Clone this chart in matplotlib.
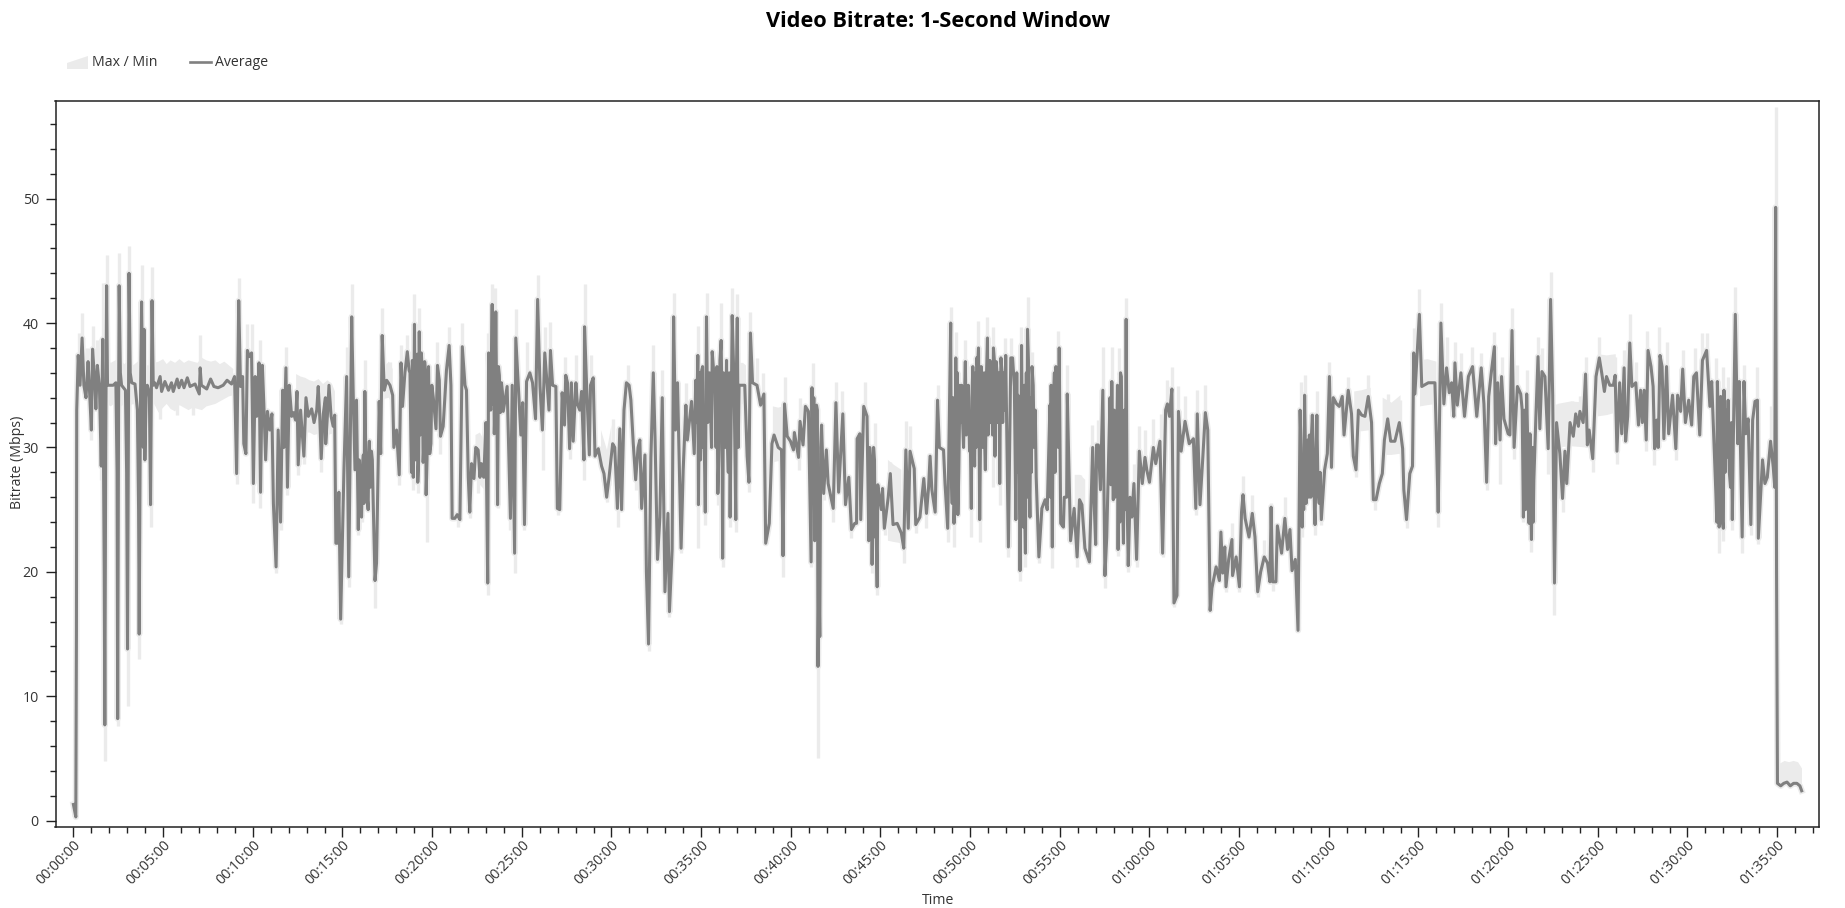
import numpy as np
from matplotlib import pyplot as plt
from matplotlib.patches import Polygon

plt.rcParams['font.family'] = ['Open Sans', 'DejaVu Sans']

nan = float('nan')

# average (seconds, Mbps)
time_s = [
    0,4,8,10,11,16,22,29,35,42, 49,53,60,64,71,75,80,87,93,98,
    103,105,108,111,114,118,133,142,146,148, 151,153,157,161,174,178,181,184,186,190,
    195,206,214,218,220,224,228,234,236,239, 243,247,254,258,263,267,272,278,290,295,
    306,318,328,334,347,353,362,370,381,390, 407,421,424,428,446,459,470,484,501,514,
    529,539,546,553,559,566,570,577,582,588, 596,602,608,613,621,626,632,637,643,649,
    657,664,669,678,685,693,700,704,711,716, 722,730,736,743,748,752,760,771,778,786,
    797,805,814,819,824,829,836,843,844,850, 855,862,869,874,878,883,888,894,905,914,
    921,931,936,942,947,953,959,964,970,975, 981,986,990,997,1003,1009,1014,1023,1028,1033,
    1040,1048,1059,1068,1072,1081,1090,1096,1101,1109, 1117,1123,1129,1137,1141,1147,1152,1157,1164,1170,
    1175,1180,1188,1196,1204,1213,1218,1224,1228,1237, 1248,1257,1263,1267,1276,1284,1293,1301,1310,1315,
    1321,1326,1332,1340,1346,1354,1360,1365,1373,1380, 1386,1389,1396,1401,1408,1413,1419,1425,1432,1438,
    1451,1462,1468,1476,1480,1488,1497,1503,1509,1516, 1527,1536,1546,1553,1561,1569,1577,1591,1596,1603,
    1614,1619,1627,1635,1643,1647,1653,1660,1666,1672, 1681,1686,1694,1700,1708,1710,1717,1726,1730,1739,
    1745,1756,1767,1775,1784,1792,1804,1811,1820,1828, 1834,1842,1850,1859,1865,1873,1881,1889,1895,1901,
    1912,1917,1924,1932,1940,1946,1954,1962,1970,1979, 1989,1994,2003,2008,2014,2021,2033,2040,2049,2054,
    2068,2077,2082,2089,2091,2102,2107,2114,2118,2126, 2132,2137,2146,2156,2167,2172,2179,2187,2197,2204,
    2211,2216,2221,2227,2246,2254,2260,2265,2272,2287, 2299,2310,2316,2328,2337,2344,2358,2369,2374,2379,
    2388,2399,2409,2412,2426,2431,2441,2449,2459,2468, 2471,2480,2486,2491,2497,2503,2510,2519,2525,2542,
    2551,2560,2574,2583,2594,2603,2614,2620,2622,2631, 2634,2644,2655,2661,2667,2672,2677,2682,2689,2693,
    2703,2707,2713,2726,2733,2742,2756,2770,2778,2785, 2793,2799,2813,2818,2832,2845,2854,2861,2866,2872,
    2883,2891,2897,2911,2916,2925,2935,2940,2946,2952, 2959,2966,2975,2984,2991,2998,3004,3009,3015,3022,
    3028,3032,3037,3044,3051,3058,3063,3078,3083,3087, 3095,3099,3103,3111,3119,3128,3136,3142,3148,3153,
    3160,3167,3172,3178,3185,3192,3200,3207,3214,3221, 3230,3240,3251,3258,3267,3275,3279,3287,3292,3298,
    3303,3312,3315,3323,3325,3336,3348,3358,3366,3374, 3384,3399,3410,3415,3420,3423,3429,3436,3444,3451,
    3457,3465,3474,3479,3487,3495,3498,3506,3513,3522, 3529,3535,3541,3548,3557,3566,3576,3585,3591,3600,
    3613,3621,3635,3644,3654,3660,3667,3675,3682,3692, 3697,3706,3719,3733,3747,3755,3760,3769,3778,3787,
    3795,3803,3809,3823,3834,3839,3845,3852,3856,3865, 3876,3878,3890,3901,3908,3913,3920,3933,3944,3953,
    3962,3972,3984,3995,4003,4007,4012,4023,4028,4042, 4053,4062,4070,4077,4088,4097,4104,4111,4119,4124,
    4130,4137,4145,4154,4160,4168,4175,4186,4195,4202, 4209,4215,4226,4235,4245,4251,4265,4276,4282,4291,
    4299,4310,4321,4332,4343,4349,4358,4369,4379,4386, 4397,4407,4421,4436,4447,4451,4460,4471,4480,4484,
    4488,4503,4511,4533,4555,4561,4566,4575,4585,4594, 4603,4611,4618,4622,4630,4642,4654,4667,4681,4695,
    4710,4719,4728,4735,4744,4754,4758,4765,4773,4778, 4786,4800,4806,4813,4820,4831,4842,4851,4862,4870,
    4873,4878,4886,4893,4900,4906,4913,4923,4934,4942, 4949,4955,4962,4973,4982,4990,4996,5007,5018,5026,
    5035,5040,5051,5059,5065,5071,5083,5094,5105,5113, 5122,5129,5140,5152,5158,5164,5173,5180,5188,5193,
    5200,5207,5214,5227,5236,5243,5249,5255,5262,5268, 5278,5285,5290,5297,5302,5308,5315,5321,5330,5337,
    5350,5361,5367,5377,5384,5393,5404,5414,5421,5430, 5441,5450,5464,5475,5481,5495,5500,5506,5511,5520,
    5522,5531,5536,5544,5550,5560,5568,5573,5583,5589, 5595,5603,5612,5618,5626,5634,5637,5651,5659,5667,
    5678,5687,5692,5695,5698,5701,5712,5722,5733,5744, 5755,5766,5776,5782,
]
avg_mbps = [
    1.3,0.8,0.3,15,33,37.4,35,38.8,35,34, 36.9,35,31.4,37.9,35.4,33.1,36.6,34.9,28.5,38.7,
    20,7.7,30,43,35,35,35,35.2,28,8.2, 33,43,36,35,34.6,28,13.8,32,44,36,
    35.2,35.1,33,25,15,33,41.7,30,39.5,29, 34,35,34.4,25.4,41.8,35,35.2,34.8,35.7,34.5,
    35.3,34.6,35.2,34.5,35.5,34.8,35.4,34.8,35.6,34.9, 35.1,34.3,36.4,35,34.7,35.5,34.9,34.8,35,35.4,
    35.1,35.7,27.9,41.8,34.9,35.7,30.3,29.5,37.8,37.3, 37.6,27.1,35.7,32.5,36.8,26.4,36.6,33.5,29,32.9,
    31.4,32.7,25.5,20.4,31.4,24,34.6,30,36.4,26.8, 35,32.5,32.8,32.2,34.5,28.6,33,29.3,34,32.5,
    33.1,32,33,34.9,32.5,29.1,32.7,34,30.3,32.7, 35,32.5,31.7,32.6,22.3,22.3,26.4,16.2,28.2,35.7,
    19.6,40.5,34.3,28.2,33.8,23.4,27.6,24.4,29.4,34.5, 27.6,25,30.5,29.7,25.5,19.3,20.7,33.7,29.5,39,
    34.6,35.4,35,34.2,30,31.4,27.8,36.8,33.3,36, 37.7,36.2,30.6,27.6,39.9,30,27.2,39.3,37.6,28.8,
    36.9,26.2,36.5,30.3,34,31.5,36.6,35.4,30.9,31.7, 36.2,38.2,35,24.3,24.3,24.6,24.2,38.1,35,34.6,
    27.6,24.8,28.7,27.5,30,29.8,27.6,28.7,27.6,32, 19.1,37.6,33,41.5,31.1,40.9,25.4,35.8,35.2,32.9,
    34.9,24.3,35,21.5,38.8,35.2,31,33.6,23.8,35.3, 36,35.2,32.3,41.9,34.9,31.4,37.6,33,37.8,35,
    34.9,25.1,25,34.4,31.8,35.8,35.2,29.9,35.2,30.5, 35.2,33.5,33,34.5,29,39.7,34.9,29.4,35,35.6,
    29.3,29.9,28.5,27.9,26,27.6,30.3,30,25.1,31.5, 25,33,35.2,35,33.8,30.3,27.4,30,30.6,25.1,
    29.4,20,14.2,29.2,36,30.6,21,24.4,34,18.4, 24.7,16.8,21.8,40.5,31.4,35.2,21.9,28.2,33.4,30.6,
    33.7,29.5,35.4,37.4,25.4,36.2,30,24.8,40.5,34.6, 32.6,37.7,34.9,26.3,38.6,21.1,35.4,30.9,24.4,40.6,
    33.5,24.2,40.4,35,35,29.3,27.2,39.2,35.2,35, 33.4,34.3,22.3,23.9,30.3,31,30,29.8,21.3,33.5,
    30.9,30.5,29.8,31.2,29.2,32.1,30.2,33.3,32.9,20.8, 34.8,22.5,33.4,12.4,14.8,31.8,26.3,29.8,27.1,25.1,
    33.6,26.4,32.7,25.4,27.6,23.4,23.9,23.9,30.7,31.1, 24.2,33.3,32.5,22.5,29,20.6,30,22.8,18.8,26.6,
    25,26.7,23.5,26,27.9,23.8,23.9,23.1,21.9,29.8, 23.5,29.7,28.3,23.8,24.4,27.5,24.7,26.8,29.3,26.6,
    24.8,33.8,30,29.8,27.1,23.5,40,25.5,23.9,37.2, 24.6,35,32,36.9,33,29.7,25.1,36.5,28.5,37.2,
    38,24.2,36.5,31.1,28.2,38.8,32.7,38,29.3,36.9, 34,27.1,37.2,34.9,37.4,22,37.2,37.2,34.9,24.2,
    34.2,20.1,38.2,23.6,21.5,39.5,24.4,36.5,30,27.6, 21.2,25.1,25.8,25,33.4,22,34,36.5,30.6,38,
    23.9,23.6,26,26,34.3,22.5,25.1,21.2,25.8,25.4, 21.9,20.8,30,25.5,22.2,30.2,30.2,26.6,34.6,19.7,
    22.8,30.7,35.3,25.8,32.2,21.8,32.7,35.7,22.3,40.3, 20.5,26,24.4,27.1,21,29.7,27.1,29.2,28.2,27.2,
    30,28.7,30.5,21.5,33,33.5,32.5,34.7,17.5,18.1, 32.9,29.7,32.1,30.3,30.7,25.1,32.7,25.4,29,32.8,
    31.4,16.9,18.7,20.4,19.3,23.2,19.9,22,18.8,21, 22.6,19.7,21.2,18.8,24.8,26.2,24.3,22.8,24.7,22.8,
    18.4,20,21.2,20.7,19.2,25.2,19.2,19.2,23.7,21.5, 24.3,21.8,23.4,20.1,21,15.3,33,23.6,34.2,25.5,
    30.6,28.2,32.6,23.8,32.6,25.5,24.2,28.2,29.5,35.7, 28.4,34,33.5,33.3,34.1,31,34.6,32.7,29.3,28.2,
    33,32.6,32.5,34.1,32,25.8,25.8,27.1,27.9,30.6, 32.3,30.5,30.5,32,29.9,26.6,24.2,27.9,28.5,37.6,
    34.3,40.7,34.9,35.2,35.2,29.8,24.8,40,33.5,36.4, 34.4,35.2,32.5,36.8,33.4,36,32.5,35.7,36.5,32.5,
    36.4,33.5,27.2,34.1,36.1,38.1,30.3,35.2,30.6,35.7, 32.3,31.1,31,39.4,30,34.9,34.3,24.4,34.3,23.9,
    31.1,22.6,27.4,32.6,37.3,31.5,36.1,35.7,29.9,41.9, 34.2,19.1,32,29.5,25.9,29.7,27.1,32,30.9,32.7,
    31.7,32.9,32,35.9,30.2,31.4,29.1,35.7,37.2,36, 34.5,35.7,35,35,35.8,29.7,35.2,31.1,36.4,30.5,
    32.5,38.4,34.9,35.2,31.8,34.6,32,34.6,30.6,37.8, 36.5,34.9,29.9,32.2,30,37.4,36.5,30.7,36.5,31.1,
    34.2,29.9,34.2,32.9,36.3,32,33.8,31.8,35.7,36, 31,37,37.8,33.3,35.3,26.3,35.3,23.6,34.1,23.5,
    34.6,29.2,33.8,26.8,24.2,40.7,30.3,35.3,22.8,35.3, 31.1,32.3,23.8,32.2,33.7,33.8,22.7,29,27.1,27.6,
    30.5,28.4,26.8,49.3,20,3,2.8,3,3.1,2.8, 3,3,2.8,2.4,
]

# extra samples in the stretches where the line is so busy it reads as a solid ridge
ridge_t = [
    956,961,967,972,978,983,988,993,1000,
    1126,1131,1134,1144,1150,1155,1160,1167,1172,1178,1183,1186,1192,1199,
    1398,1403,1406,1410,1415,1417,1422,1428,1435,
    2085,2095,2098,2105,2110,2122,2128,2135,2141,2150,2153,2160,2163,2170,2175,2182,2185,2191,2194,2200,2208,2213,2218,2224,
    2474,2477,2483,2489,2494,2500, 2664,2670,2675,2680,2685,2691,
    2937,2943,2949,2955,2957,2962,2969,2972,2978,2981,2987,2994,3001,3006,3012,3018,3020,3025,3030,3035,
    3040,3042,3047,3049,3055,3060,3066,3069,3072,3075,3081,3085,3090,3093,3097,3101,3107,3109,3114,3117,
    3156,3158,3163,3165,3170,3175,3181,3183,3188,3190,3195,3197,3203,3205,3211,3218,
    3269,3271,3273,3277,3282,3284,3289,3295,
    3468,3471,3476,3482,3485,3490,3493,3501,3503,3509,3516,3519,3525,
    4101,4107,4109,4113,4116,4121,4127,4133,4135,4140,4142,4150,4152,4157,4163,4166,4171,
    4847,4855,4858,4865,4868,4875,4881,4884,
    5498,5503,5509,5514,5517,5526,5528,5540,5547,5553,
]
ridge_mbps = [
    29,24.6,28.5,25.5,29.6,26,29.5,26.8,29,
    36,28,37,29,37.5,29,31,36,30,36,29,35,29.5,35,
    36,33.5,38,33,36,33,36.5,32.8,34.5,
    32,36,29,36.5,31,32,36,30,36.5,30,36.5,30,37,33,36,30,37,28,36,31,37,30,36,30,
    27,34,26,33,20,30, 30,27,26,29,24,27,
    28,34,27,30,36,28,32,35,30,34,31,35,30,34,33,36,30,36.5,31,31,
    35,30,36,30,36,31,37,32,36,31,37,32,36,32,36,33,36,32,36,33,
    36,28,34,26,28,30,35,24,36,26,37,28,34,28,35,33,
    26,35,27,30,36,28,35,30,
    34,27,31,33,26,30,35,24,36,27,33,25,26,
    25,30,26,28,25,31,28,26,31,26,31,28,25,28,28,26,28,
    33,33,25,31,25,26,30,24,
    24,32,27,31,24,28,33,28,32,30,
]

# tops of the light max spikes
max_t = [
    19,29,44,64,80,98,111,153,186,228, 263,423,553,582,596,624,711,914,
    931,975,1033,1059,1096,1117,1141,1156,1218,1257, 1301,1388,1401,1412,1480,1516,1553,1577,1596,1644,
    1683,1710,1733,1806,1856, 1940,1970,2008,2049,2089,2118,2167,2204,2221,2265,
    2287,2308,2379,2431,2473,2551,2572,2649,2681,2731, 2785,2798,
    2891,2935,2952,2984,3028,3058,3078,3117,3136,3169, 3192,3206,3279,3295,3325,3366,3409,3429,3444,3474,
    3498,3522,3548,3566,3585,3613,3637,3658,3675,3697, 3719,3760,3787,
    3875,3912,3944,3984,4007,4053,4106,4119,4159,4202, 4265,4330,4397,4438,4484,4503,4527,4575,4596,4622,
    4642,4680,4710,4754,4778, 4813,4831,4862,4900,4913,4942,4960,5012,5040,5059,
    5105,5135,5158,5188,5207,5227,5263,5306,5330,5384, 5425,5450,5466,5497,5520,5536,5560,5589,5633,5678,5695,
]
max_mbps = [
    39.2,40.8,38,39.8,38.6,43.2,45.5,45.6,46.2,44.7, 44.5,39,43.6,39.9,39.9,38.6,38.1,38.1,
    43.1,37,41.2,36.9,38.2,39,42.3,41.2,38.5,39.7, 40,39.2,43.1,42.8,41.1,38.5,43.9,39.7,40.1,37.3,
    37.4,43.1,37.4,32.3,36.6, 38.2,36.2,42.4,35.2,39.8,42.4,41.6,42.8,42.3,40.9,
    37.2,36,35.7,34,36.8,35.3,34.5,35.3,32,28.8, 32.1,31.7,
    35,41.3,39.3,38.6,40.2,40.5,39.7,38.8,38.8,39.7, 42.1,37.7,35.7,39.4,36.6,27.8,31.8,32.2,38.1,38.1,
    38,42,28.7,31.7,31.4,32.3,32.7,35.4,36.5,34.9, 34.1,34.6,35,
    23.9,27.7,26.2,22.6,25.5,26,35.3,35.8,34.5,36.9, 35.7,35.8,34.3,33.8,39.6,42.7,36.5,41.6,38.9,38.5,
    37.6,38.1,37.6,39.3,37.3, 41.2,36.6,36.2,38.9,38,44.1,33.5,33.7,34.1,37.3,
    38.9,37.3,37.3,37.8,40.7,36.9,39.4,39.7,38.5,37.8, 38,39.2,39.2,37.2,36.5,35.7,42.9,36.6,36.5,33.3,57.4,
]

# bottoms of the light min spikes
min_t = [
    60,93,105,148,181,220,258,290,345,400, 546,602,624,678,693,716,752,771,829,894,921,
    953,964,1009,1090,1137,1152,1184,1228,1267,1287, 1326,1354,1386,1419,1462,1476,1509,1572,1622,1661,
    1708,1784,1823,1882, 1924,1954,1994,2033,2091,2114,2156,2172,2197,2216,
    2260,2316,2374,2426,2468,2492,2510,2542,2603,2672, 2689,2715,2778,2818,2854,
    2883,2925,2946,3004,3032,3078,3099,3128,3167,3185, 3230,3275,3336,3358,3399,3451,3495,3529,3557,3644,
    3682,3755,3803,3856,3901,3962,4012,4097,4111,4154, 4175,4291,4354,4460,4566,4728,4773,
    4820,4851,4878,4934,4955,4984,5083,5164,5262,5287, 5361,5506,5520,5550,5583,5612,5637,
]
min_mbps = [
    30.6,27.4,4.8,7.6,9.2,13,23.6,32.3,32.6,32.6, 27.1,25.5,25.1,19.9,23.4,26.2,27.8,28.7,28,15.8,18.8,
    23,24,17.1,27,26.6,26.3,22.4,29.5,24.2,23.6, 24.3,26.3,18.1,25.1,23.4,19.9,23.4,28.2,24.6,29.1,
    27.4,25.6,23.6,26.6, 13.6,20.7,16.4,21.5,21.9,23.8,25.4,20.4,23.6,23.2,
    26.4,22.2,19.6,28.2,20.4,5,25.8,24,22.7,19.9, 18.1,23,20.7,23.1,23.5,
    24.6,22.4,22,22.8,22.4,26.8,25.4,21.2,19.3,20.4, 20.7,20.3,22.2,20.4,20.7,18.7,21.3,20,20.4,21.2,
    17.2,24.6,16.9,18.4,18.4,18,18.5,15.2,22.8,23, 23.8,27.6,25,23.5,23.6,26.6,27.1,
    29.1,24,21.6,27.9,16.5,24.8,28,28.7,29.7,28.6, 29,21.5,22.5,23.4,21.5,23,22.2,
]

# stretches where the max/min band shows as a soft haze, nan breaks them
haze_t = [
    112,125,140,155,170,185,200,215,230,245, 258,270,285,300,312,325,340,355,370,385,
    400,415,430,445,460,475,490,505,520,535, 536,
    745,760,775,790,805,820,835,850,865,875, 876,
    1040,1055,1068,1069, 1345,1360,1375,1376, 1765,1785,1800,1801,
    2230,2240,2250,2251, 2340,2358,2375,2376, 2725,2745,2770,2771,
    3350,3368,3385,3386, 4285,4310,4340,4341, 4380,4410,4440,4441, 4505,4530,4560,4561,
    4965,5010,5060,5061, 5100,5130,5160,5161,
    5698,5710,5725,5740,5755,5770,5783,
]
haze_hi = [
    37,36.8,37,37.1,36.7,37,36.6,36.9,37,36.6, 36.6,36.8,36.9,37.1,36.7,37,36.8,37.1,36.8,37,
    36.9,36.8,37.2,37,36.9,37,36.7,36.9,36.6,36.3, nan,
    35.9,35.7,35.6,35.4,35.3,35.5,35.1,35.4,35.1,34.5, nan,
    36.5,36.9,36.3,nan, 31,31.2,30.5,nan, 31.4,29.8,31.8,nan,
    36.8,36.8,36.6,nan, 33.3,33.2,33.3,nan, 29,28.6,28.2,nan,
    27.8,27.8,27.4,nan, 34.5,34.6,34.8,nan, 34,33.6,34.2,nan, 37,37.1,36.9,nan,
    33.5,33.7,33.6,nan, 37.5,37.4,37.5,nan,
    4.8,4.6,4.8,4.7,4.8,4.7,4.2,
]
haze_lo = [
    33.5,33.3,33.6,33.2,33.5,33.3,33.5,33.2,33.4,33, 33.4,33.5,32.8,33.2,33.5,33.1,32.9,33.4,33.2,33,
    33.2,33.1,33,33.3,33.4,33.5,33.7,33.9,34.1,34.2, nan,
    31.5,31.3,31.2,31.2,31,31.1,31,31,31.1,30.8, nan,
    33.9,34,33.5,nan, 28,27,26.6,nan, 27.5,25.5,27,nan,
    33.5,33.5,33.6,nan, 28.8,28.9,28.8,nan, 22.5,22.4,22.3,nan,
    22.5,22.4,22.5,nan, 31.4,31.3,31.4,nan, 29.4,29.4,29.5,nan, 33.3,33.4,33.5,nan,
    30,30.1,30,nan, 32.5,32.6,32.8,nan,
    2.8,2.7,2.8,2.8,2.8,2.7,2.4,
]

y_major = [0, 10, 20, 30, 40, 50]
x_major = list(range(0, 5701, 300))
x_labels = ['%02d:%02d:00' % (s // 3600, s % 3600 // 60) for s in x_major]

dark = '#222222'
text_c = '#333333'
band_c = '#ebebeb'
line_c = '#808080'
W, H = 1845, 908

# merge the ridge samples in by time
order = np.argsort(time_s + ridge_t, kind='stable')
line_t = np.array(time_s + ridge_t)[order]
line_v = np.array(avg_mbps + ridge_mbps)[order]

fig = plt.figure(figsize=(W / 100, H / 100), dpi=100)
ax = fig.add_axes([55.5 / W, 1 - 826.5 / H, (1819 - 55.5) / W, (826.5 - 101) / H])

ax.fill_between(haze_t, haze_lo, haze_hi, color=band_c, lw=0)
# halo of the line, the band hugs it everywhere
ax.plot(line_t, line_v, color=band_c, lw=4.5, solid_joinstyle='round')
ax.vlines(max_t, np.interp(max_t, line_t, line_v), max_mbps, color=band_c, lw=2.4)
ax.vlines(min_t, min_mbps, np.interp(min_t, line_t, line_v), color=band_c, lw=2.4)
ax.plot(line_t, line_v, color=line_c, lw=2.2, solid_joinstyle='round')

ax.set_xlim(-60, 5840)
ax.set_ylim(-0.47, 57.85)
ax.set_xticks(x_major)
ax.set_xticks(range(0, 5821, 60), minor=True)
ax.set_xticklabels(x_labels, rotation=45, ha='right', rotation_mode='anchor', fontsize=10.2, color=text_c)
ax.set_yticks(y_major)
ax.set_yticks(range(0, 57, 2), minor=True)
ax.set_yticklabels(y_major, fontsize=10.2, color=text_c)
ax.tick_params(which='major', length=7, width=1, color=dark, pad=1)
ax.tick_params(which='minor', length=4, width=1, color=dark)
ax.tick_params(axis='y', which='major', pad=5)
for s in ax.spines.values():
    s.set_color(dark)
    s.set_linewidth(1.1)

fig.text(938 / W, 1 - 21.5 / H, 'Video Bitrate: 1-Second Window', fontsize=15.7, fontweight='bold',
         color='black', ha='center', va='center')
fig.text(18 / W, 1 - 462 / H, 'Bitrate (Mbps)', fontsize=10.2, rotation=90, color=text_c, ha='center', va='center')
fig.text(938 / W, 1 - 900 / H, 'Time', fontsize=10.2, color=text_c, ha='center', va='center')

# legend, placed by hand like the original
icon = Polygon([[67 / W, 1 - 69 / H], [67 / W, 1 - 63 / H], [88 / W, 1 - 56 / H], [88 / W, 1 - 69 / H]],
               closed=True, transform=fig.transFigure, facecolor=band_c, edgecolor='none')
fig.add_artist(icon)
fig.text(92 / W, 1 - 62 / H, 'Max / Min', fontsize=10.2, color=text_c, ha='left', va='center')
fig.add_artist(plt.Line2D([190 / W, 211 / W], [1 - 61.5 / H, 1 - 61.5 / H], transform=fig.transFigure, color=line_c, lw=1.9))
fig.text(215 / W, 1 - 62 / H, 'Average', fontsize=10.2, color=text_c, ha='left', va='center')

fig.savefig('out.png', dpi=100)
